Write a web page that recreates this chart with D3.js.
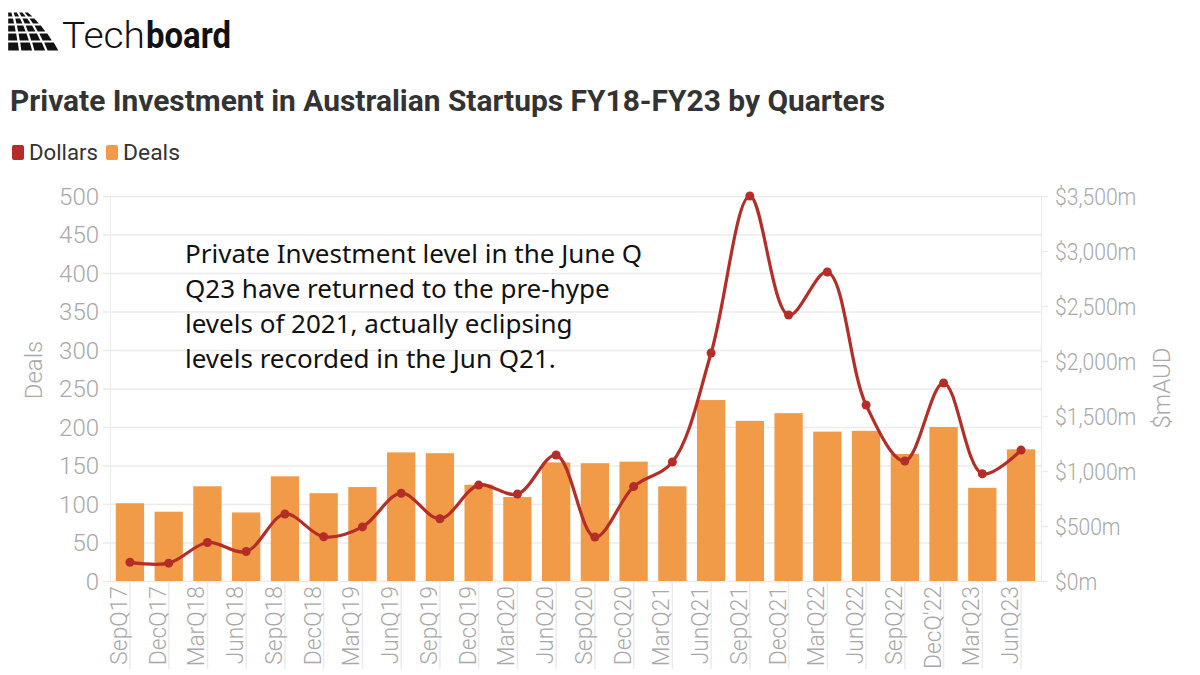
<!DOCTYPE html>
<html>
<head>
<meta charset="utf-8">
<script src="https://cdn.jsdelivr.net/npm/d3@7"></script>
<style>
  body { margin: 0; background: #fff; }
  svg { display: block; }
</style>
</head>
<body>
<svg id="chart"></svg>
<script>
// Quarter labels
var quarters = ["SepQ17", "DecQ17", "MarQ18", "JunQ18", "SepQ18", "DecQ18", "MarQ19", "JunQ19",
  "SepQ19", "DecQ19", "MarQ20", "JunQ20", "SepQ20", "DecQ20", "MarQ21", "JunQ21",
  "SepQ21", "DecQ21", "MarQ22", "JunQ22", "SepQ22", "DecQ'22", "MarQ23", "JunQ23"];
// Number of deals per quarter (left axis)
var deals = [101, 90, 123, 89, 136, 114, 122, 167, 166, 125, 109, 154, 153, 155, 123, 235,
  208, 218, 194, 195, 165, 200, 121, 171];
// Dollars invested, $m AUD (right axis)
var dollars = [170, 162, 350, 268, 609, 402, 492, 798, 566, 872, 790, 1145, 400, 858, 1082, 2073,
  3500, 2418, 2809, 1600, 1091, 1800, 975, 1190];
var dealTicks = [0, 50, 100, 150, 200, 250, 300, 350, 400, 450, 500];
var dollarTicks = [0, 500, 1000, 1500, 2000, 2500, 3000, 3500];
var noteLines = ["Private Investment level in the June Q", "Q23 have returned to the pre-hype",
  "levels of 2021, actually eclipsing", "levels recorded in the Jun Q21."];

var width = 1200, height = 675;
var plot = {left: 110, right: 1041, top: 196, bottom: 581};
var orange = "#f19a48", red = "#b42e27", grey = "#a8a8a8", grid = "#ebebeb";

var svg = d3.select("#chart")
  .attr("width", width)
  .attr("height", height)
  .style("font-family", "Roboto");

// Logo
var logo = svg.append("g").attr("id", "logo");
var rowsY = [12, 18, 25, 33, 42, 52];
for (var r = 0; r < 5; r++) {
  var y0 = rowsY[r] + 0.5, y1 = rowsY[r + 1] - 1.5;
  var w0 = 22 + r * 6.5, w1 = 22 + (r + 1) * 6.5 - 2;
  for (var c = 0; c < 4; c++) {
    var a0 = 7 + w0 * c / 4 + 1.2, b0 = 7 + w0 * (c + 1) / 4 - 1.2;
    var a1 = 7 + w1 * c / 4 + 1.2, b1 = 7 + w1 * (c + 1) / 4 - 1.2;
    logo.append("path")
      .attr("d", "M" + a0 + "," + y0 + "L" + b0 + "," + y0 + "L" + b1 + "," + y1 + "L" + a1 + "," + y1 + "Z")
      .attr("fill", "#111");
  }
}
logo.append("text").attr("x", 62).attr("y", 48)
  .attr("textLength", 83).attr("lengthAdjust", "spacingAndGlyphs")
  .style("font-size", "37px").style("font-weight", 300).style("fill", "#111").text("Tech");
logo.append("text").attr("x", 146).attr("y", 48)
  .attr("textLength", 85).attr("lengthAdjust", "spacingAndGlyphs")
  .style("font-size", "37px").style("font-weight", 700).style("fill", "#111").text("board");

// Title
svg.append("text").attr("x", 10).attr("y", 111)
  .attr("textLength", 875).attr("lengthAdjust", "spacingAndGlyphs")
  .style("font-size", "29px").style("font-weight", 700).style("fill", "#333")
  .text("Private Investment in Australian Startups FY18-FY23 by Quarters");

// Legend
var legend = svg.append("g");
legend.append("rect").attr("x", 12).attr("y", 145).attr("width", 12).attr("height", 15).attr("rx", 2).attr("fill", red);
legend.append("text").attr("x", 29).attr("y", 160).attr("textLength", 69).attr("lengthAdjust", "spacingAndGlyphs")
  .style("font-size", "22px").style("fill", "#333").text("Dollars");
legend.append("rect").attr("x", 106).attr("y", 145).attr("width", 12).attr("height", 15).attr("rx", 2).attr("fill", orange);
legend.append("text").attr("x", 123).attr("y", 160).attr("textLength", 57).attr("lengthAdjust", "spacingAndGlyphs")
  .style("font-size", "22px").style("fill", "#333").text("Deals");

// Scales
var x = d3.scaleBand().domain(quarters).range([plot.left, plot.right]).paddingInner(0.27).paddingOuter(0.15);
var yDeals = d3.scaleLinear().domain([0, 500]).range([plot.bottom, plot.top]);
var yDollars = d3.scaleLinear().domain([0, 3500]).range([plot.bottom, plot.top]);

// Horizontal gridlines + left axis
var leftAxis = svg.append("g")
  .attr("transform", "translate(" + plot.left + ",0)")
  .call(d3.axisLeft(yDeals).tickValues(dealTicks).tickSize(7).tickPadding(4));
leftAxis.select(".domain").attr("stroke", grid);
leftAxis.selectAll(".tick line").clone()
  .attr("x1", 0).attr("x2", plot.right - plot.left);
leftAxis.selectAll(".tick line").attr("stroke", grid).attr("stroke-width", 1.5);
leftAxis.selectAll(".tick text").style("font-size", "24px").style("font-weight", 300)
  .style("fill", grey).style("font-family", "Roboto").attr("dy", "0.35em");

// Right axis
var rightAxis = svg.append("g")
  .attr("transform", "translate(" + plot.right + ",0)")
  .call(d3.axisRight(yDollars).tickValues(dollarTicks).tickSize(7).tickPadding(0)
    .tickFormat(function(d) { return "$" + d3.format(",")(d) + "m"; }));
rightAxis.select(".domain").attr("stroke", grid);
rightAxis.selectAll(".tick line").attr("stroke", grid).attr("stroke-width", 1.5);
rightAxis.selectAll(".tick text").style("font-size", "24px").style("font-weight", 300)
  .style("fill", grey).style("font-family", "Roboto").attr("dy", "0.35em")
  .attr("x", 0).attr("transform", "translate(14,0) scale(0.88,1)");

// Bottom axis: long tick lines under the axis between rotated labels
var bottomAxis = svg.append("g")
  .attr("transform", "translate(0," + plot.bottom + ")")
  .call(d3.axisBottom(x).tickSize(88).tickPadding(0));
bottomAxis.select(".domain").remove();
bottomAxis.selectAll(".tick line").attr("stroke", grid).attr("stroke-width", 1.5);
bottomAxis.selectAll(".tick text")
  .attr("y", 0).attr("x", 0)
  .attr("transform", "translate(-3,5) rotate(-90) scale(0.95,1)")
  .attr("dy", 0)
  .style("text-anchor", "end")
  .style("font-size", "24px").style("font-weight", 300)
  .style("fill", grey).style("font-family", "Roboto");

// Axis titles
svg.append("text").attr("transform", "translate(42,370) rotate(-90)")
  .style("text-anchor", "middle").style("font-size", "24px").style("font-weight", 300)
  .style("fill", grey).text("Deals");
svg.append("text").attr("transform", "translate(1170,388) rotate(-90)")
  .style("text-anchor", "middle").style("font-size", "24px").style("font-weight", 300)
  .style("fill", grey).text("$mAUD");

// Bars
svg.append("g").selectAll("rect")
  .data(quarters)
  .enter()
  .append("rect")
  .attr("x", function(d) { return x(d); })
  .attr("y", function(d, i) { return yDeals(deals[i]); })
  .attr("width", x.bandwidth())
  .attr("height", function(d, i) { return yDeals(0) - yDeals(deals[i]); })
  .attr("fill", orange);

// Dollars line
var line = d3.line()
  .x(function(d, i) { return x(quarters[i]) + x.bandwidth() / 2; })
  .y(function(d) { return yDollars(d); })
  .curve(d3.curveCatmullRom.alpha(0.5));

svg.append("path")
  .datum(dollars)
  .attr("d", line)
  .attr("fill", "none")
  .attr("stroke", red)
  .attr("stroke-width", 3.2);

svg.append("g").selectAll("circle")
  .data(dollars)
  .enter()
  .append("circle")
  .attr("cx", function(d, i) { return x(quarters[i]) + x.bandwidth() / 2; })
  .attr("cy", function(d) { return yDollars(d); })
  .attr("r", 4.5)
  .attr("fill", red);

// Annotation
var note = svg.append("text")
  .style("font-family", "Noto Sans")
  .style("font-size", "26px")
  .style("fill", "#111");
note.selectAll("tspan")
  .data(noteLines)
  .enter()
  .append("tspan")
  .attr("x", 185)
  .attr("y", function(d, i) { return 263 + i * 35; })
  .text(function(d) { return d; });
</script>
</body>
</html>
